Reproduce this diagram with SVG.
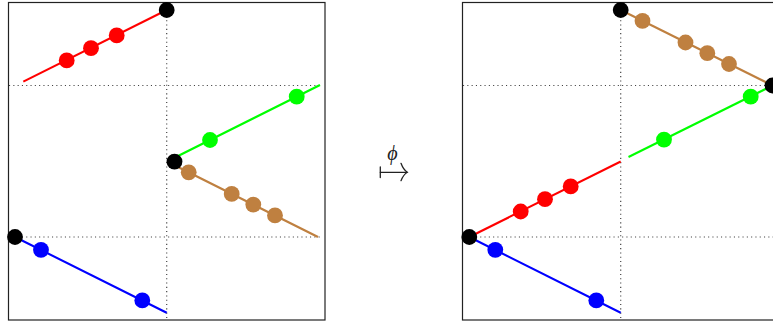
<svg xmlns="http://www.w3.org/2000/svg" width="773" height="324" viewBox="0 0 773 324">
<style>
.frame{fill:none;stroke:#222;stroke-width:1.2}
.grid{fill:none;stroke:#444;stroke-width:1.2;stroke-dasharray:1.1 3.2}
.seg{fill:none;stroke-width:2.1;stroke-linecap:butt}
.r{stroke:#ff0000}.g{stroke:#00ff00}.b{stroke:#0000ff}.n{stroke:#bf8040}
.dr{fill:#ff0000}.dg{fill:#00ff00}.db{fill:#0000ff}.dn{fill:#bf8040}.dk{fill:#000}
.lbl{font-family:"Liberation Serif","DejaVu Serif",serif;font-style:italic;font-size:20px;fill:#222}
</style>
<rect width="773" height="324" fill="#fff"/>
<g id="left-panel">
  <rect class="frame" x="8.5" y="2.5" width="316.5" height="317.5"/>
  <g id="left-grid">
    <line class="grid" x1="9" y1="85.5" x2="322" y2="85.5"/>
    <line class="grid" x1="9" y1="237" x2="322" y2="237"/>
    <line class="grid" x1="166.7" y1="3" x2="166.7" y2="320"/>
  </g>
  <g id="left-red">
    <line class="seg r" x1="23.3" y1="81.6" x2="166.7" y2="10"/>
    <circle class="dr" cx="66.7" cy="60.4" r="7.9"/>
    <circle class="dr" cx="91" cy="48.2" r="7.9"/>
    <circle class="dr" cx="116.7" cy="35.4" r="7.9"/>
  </g>
  <g id="left-green">
    <line class="seg g" x1="176" y1="157" x2="320" y2="85"/>
    <circle class="dg" cx="210" cy="140" r="7.9"/>
    <circle class="dg" cx="296.7" cy="96.7" r="7.9"/>
  </g>
  <g id="left-brown">
    <line class="seg n" x1="176" y1="166" x2="318" y2="237"/>
    <circle class="dn" cx="188.7" cy="172.3" r="7.9"/>
    <circle class="dn" cx="231.7" cy="193.9" r="7.9"/>
    <circle class="dn" cx="253.3" cy="204.6" r="7.9"/>
    <circle class="dn" cx="275" cy="215.4" r="7.9"/>
  </g>
  <g id="left-blue">
    <line class="seg b" x1="15" y1="237" x2="166.7" y2="312.8"/>
    <circle class="db" cx="41" cy="249.8" r="7.9"/>
    <circle class="db" cx="142.3" cy="300.4" r="7.9"/>
  </g>
  <g id="left-black">
    <circle class="dk" cx="166.7" cy="10" r="7.9"/>
    <circle class="dk" cx="174.5" cy="161.6" r="7.9"/>
    <circle class="dk" cx="15" cy="237" r="7.9"/>
  </g>
</g>
<g id="map-arrow">
  <text class="lbl" x="392.5" y="160" text-anchor="middle">ϕ</text>
  <g fill="none" stroke="#222" stroke-width="1.3" stroke-linecap="round">
    <line x1="380.3" y1="167" x2="380.3" y2="177.5"/>
    <line x1="380.3" y1="172.3" x2="407" y2="172.3"/>
    <path d="M401 163.3 Q403.5 170 407.3 172.3 Q403.5 174.6 401 180.7"/>
  </g>
</g>
<g id="right-panel">
  <rect class="frame" x="462.5" y="2.5" width="316.5" height="317.5"/>
  <g id="right-grid">
    <line class="grid" x1="463" y1="85.5" x2="773" y2="85.5"/>
    <line class="grid" x1="463" y1="237" x2="773" y2="237"/>
    <line class="grid" x1="620.7" y1="3" x2="620.7" y2="320"/>
  </g>
  <g id="right-brown">
    <line class="seg n" x1="620.7" y1="10" x2="772.5" y2="85.5"/>
    <circle class="dn" cx="642.5" cy="20.9" r="7.9"/>
    <circle class="dn" cx="685.5" cy="42.5" r="7.9"/>
    <circle class="dn" cx="707.3" cy="53.2" r="7.9"/>
    <circle class="dn" cx="729" cy="64" r="7.9"/>
  </g>
  <g id="right-green">
    <line class="seg g" x1="628.5" y1="157" x2="772.5" y2="85.5"/>
    <circle class="dg" cx="664" cy="139.6" r="7.9"/>
    <circle class="dg" cx="750.7" cy="96.7" r="7.9"/>
  </g>
  <g id="right-red">
    <line class="seg r" x1="469.3" y1="237" x2="620.7" y2="161.5"/>
    <circle class="dr" cx="520.7" cy="211.5" r="7.9"/>
    <circle class="dr" cx="545" cy="199.2" r="7.9"/>
    <circle class="dr" cx="570.7" cy="186.4" r="7.9"/>
  </g>
  <g id="right-blue">
    <line class="seg b" x1="469.3" y1="237" x2="620.7" y2="312.8"/>
    <circle class="db" cx="495.3" cy="249.8" r="7.9"/>
    <circle class="db" cx="596.3" cy="300.4" r="7.9"/>
  </g>
  <g id="right-black">
    <circle class="dk" cx="620.7" cy="10" r="7.9"/>
    <circle class="dk" cx="772.5" cy="85.5" r="7.9"/>
    <circle class="dk" cx="469.3" cy="237" r="7.9"/>
  </g>
</g>
</svg>
